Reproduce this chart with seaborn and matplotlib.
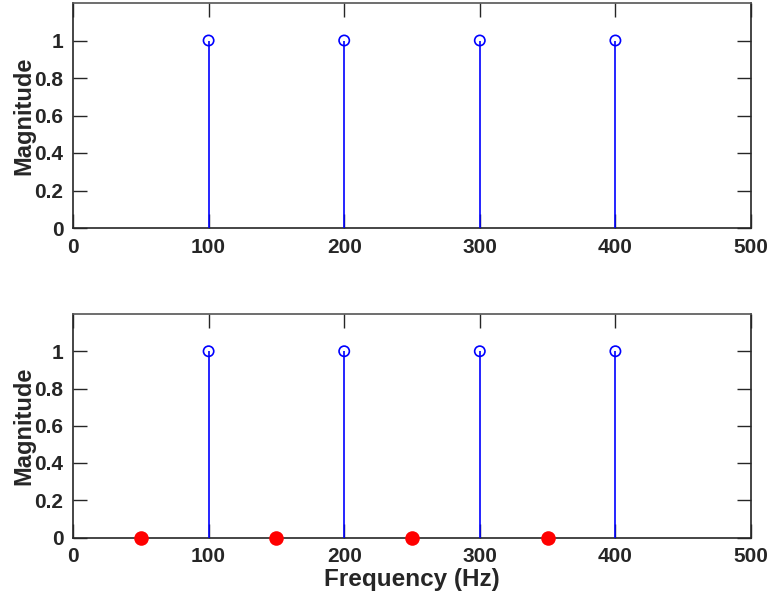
import matplotlib
matplotlib.use("Agg")
import matplotlib.pyplot as plt
import seaborn as sns
import pandas as pd

# data
stem_freqs = [100, 200, 300, 400]
stem_mags = [1, 1, 1, 1]
red_freqs = [50, 150, 250, 350]
red_mags = [0, 0, 0, 0]
x_ticks = [0, 100, 200, 300, 400, 500]
y_ticks = [0, 0.2, 0.4, 0.6, 0.8, 1]
y_tick_labels = ["0", "0.2", "0.4", "0.6", "0.8", "1"]

sns.set_style("ticks")
plt.rcParams['font.family'] = ['Liberation Sans', 'DejaVu Sans']
plt.rcParams['font.weight'] = 'bold'

fig = plt.figure(figsize=(7.76, 5.99), dpi=100)
ax1 = fig.add_axes([73/776, 1-228/599, (751-73)/776, (228-3)/599])
ax2 = fig.add_axes([73/776, 1-537.5/599, (751-73)/776, (537.5-314)/599])

stems = pd.DataFrame({"freq": stem_freqs, "mag": stem_mags})
reds = pd.DataFrame({"freq": red_freqs, "mag": red_mags})

for i, ax in enumerate([ax1, ax2]):
    ax.vlines(stems["freq"], 0, stems["mag"], color=(0, 0, 1), lw=1.2, zorder=3)
    sns.scatterplot(data=stems, x="freq", y="mag", ax=ax, marker="o",
                    s=55, facecolor="none", edgecolor=(0, 0, 1), linewidth=1.2, zorder=4)
    if i == 1:
        sns.scatterplot(data=reds, x="freq", y="mag", ax=ax, marker="o",
                        s=110, color=(1, 0, 0), edgecolor=(1, 0, 0), linewidth=0, zorder=5,
                        clip_on=False)
    ax.set_xlim(0, 500)
    ax.set_ylim(0, 1.2)
    ax.set_xticks(x_ticks)
    ax.set_xticklabels([str(v) for v in x_ticks], fontsize=15, fontweight='bold', color='#262626')
    ax.set_yticks(y_ticks)
    ax.set_yticklabels(y_tick_labels, fontsize=15, fontweight='bold', color='#262626')
    ax.tick_params(direction='in', length=10, width=1, top=True, right=True, color='#262626')
    ax.tick_params(axis='x', pad=7)
    ax.tick_params(axis='y', pad=7)
    for s in ax.spines.values():
        s.set_visible(True)
        s.set_color('#262626')
        s.set_linewidth(1.2)
    ax.spines['top'].set_color('#555555')
    ax.set_ylabel("Magnitude", fontsize=17, fontweight='bold', color='#262626', labelpad=-1)
    ax.set_xlabel("")

ax2.set_xlabel("Frequency (Hz)", fontsize=17.5, fontweight='bold', color='#262626', labelpad=1)

fig.savefig("out.png", dpi=100)
